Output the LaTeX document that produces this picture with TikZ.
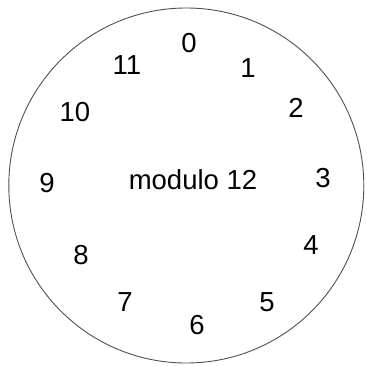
\documentclass[tikz,border=0pt]{standalone}
\usepackage{fontspec}
\setmainfont{Liberation Sans}
\definecolor{rimc}{HTML}{505050}

\begin{document}
\begin{tikzpicture}[x=1pt, y=-1pt, hour/.style={inner sep=0pt, font=\fontsize{27.5}{30}\selectfont}]
  \useasboundingbox (0,0) rectangle (366,366);
  \draw[rimc, line width=0.9pt] (186.3,185.5) circle[radius=177.5pt];
  \node[hour] (centre) at (193,180) {modulo 12};
  \foreach \n/\x/\y in {0/189/43, 1/248/68, 2/296/108, 3/323/178, 4/311/245, 5/267/302,
                        6/197/325, 7/125/302, 8/81/255, 9/47/183, 10/75/112, 11/127/65}
    \node[hour] (h\n) at (\x,\y) {\n};
\end{tikzpicture}
\end{document}
